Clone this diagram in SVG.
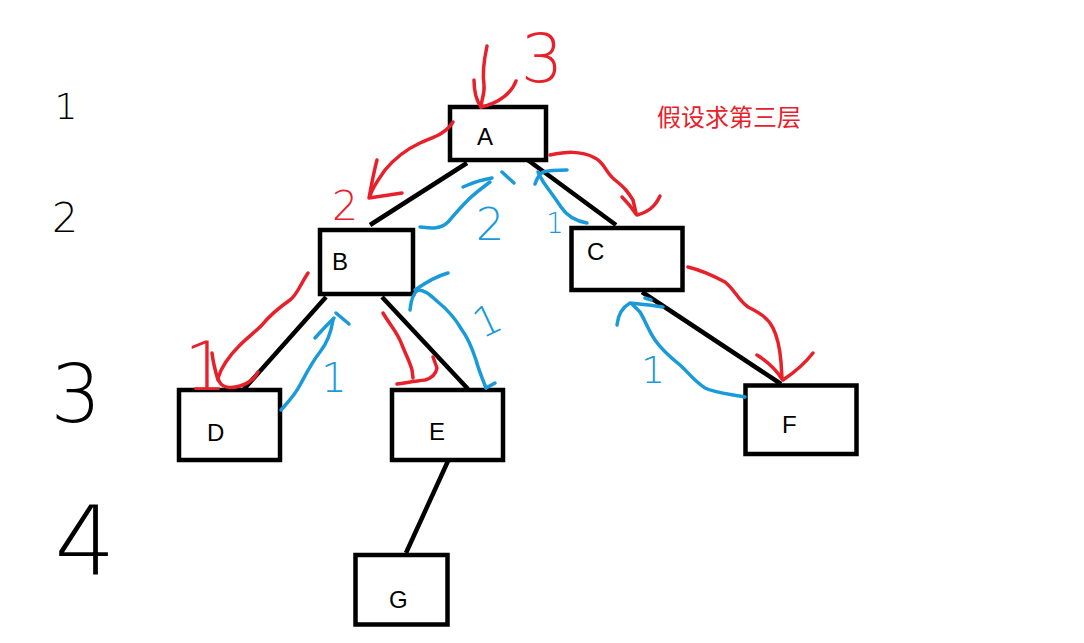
<svg xmlns="http://www.w3.org/2000/svg" width="1084" height="643" viewBox="0 0 1084 643">
<style>
.box{fill:#fff;stroke:#000;stroke-width:4.5}
.lbl{font-family:"Liberation Sans",Arial,sans-serif;font-size:24px;fill:#000}
.edge{stroke:#000;stroke-width:4.5;fill:none;stroke-linecap:butt}
.red{stroke:#e8202a;stroke-width:3.5;fill:none;stroke-linecap:round;stroke-linejoin:round}
.blue{stroke:#1a9ad8;stroke-width:3.5;fill:none;stroke-linecap:round;stroke-linejoin:round}
.hand{font-family:"DejaVu Sans ExtraLight","DejaVu Sans",sans-serif;font-weight:200;text-anchor:middle}
.hk{fill:#000}
.hr{fill:#e8202a}
.hb{fill:#1a9ad8}
</style>
<rect width="1084" height="643" fill="#fff"/>
<g id="connectors">
<path class="edge" d="M467,163 L370,225"/>
<path class="edge" d="M525,158 L616,225"/>
<path class="edge" d="M326,297 L244,389"/>
<path class="edge" d="M382,297 L468,389"/>
<path class="edge" d="M642,292 L781,384"/>
<path class="edge" d="M448,461 L406,553"/>
</g>
<g id="node-A"><rect class="box" x="450" y="107" width="96" height="53"/><text class="lbl" x="477" y="145">A</text></g>
<g id="node-B"><rect class="box" x="320" y="230" width="93" height="64"/><text class="lbl" x="332" y="270">B</text></g>
<g id="node-C"><rect class="box" x="571.5" y="228" width="111" height="62"/><text class="lbl" x="587" y="260">C</text></g>
<g id="node-D"><rect class="box" x="179" y="390" width="101" height="70"/><text class="lbl" x="207" y="441">D</text></g>
<g id="node-E"><rect class="box" x="392" y="390" width="111" height="70"/><text class="lbl" x="429" y="440">E</text></g>
<g id="node-F"><rect class="box" x="745.5" y="385.5" width="111" height="68.5"/><text class="lbl" x="782" y="433">F</text></g>
<g id="node-G"><rect class="box" x="355.5" y="555" width="92" height="69.5"/><text class="lbl" x="389" y="608">G</text></g>
<g id="red-marks">
<path class="red" d="M487,46 C484,60 482,72 484,85 C485,95 481,100 481,107"/>
<path class="red" d="M474,80 C474,92 476,100 481,107"/>
<path class="red" d="M516,81 C512,92 500,103 481,107"/>
<path class="red" d="M453,122 C445,135 430,138 420,143 C405,150 395,158 385,170 C378,180 372,188 370,196"/>
<path class="red" d="M377,160 C373,175 371,188 369,198 L402,193"/>
<path class="red" d="M550,155 C565,152 580,150 595,158 C605,163 605,172 615,180 C625,188 628,192 633,200 L636,213"/>
<path class="red" d="M622,197 C628,203 632,208 636,214"/>
<path class="red" d="M660,196 C655,207 648,212 637,215"/>
<path class="red" d="M308,273 C300,285 297,295 290,300 C280,307 270,315 262,325 C255,332 248,337 240,345 C230,355 222,365 218,378 C220,388 230,389 240,386 C250,383 255,378 258,372"/>
<path class="red" d="M212,353 C213,362 215,370 218,380"/>
<path class="red" d="M383,313 C390,325 398,333 402,345 C406,355 410,362 412,370 L413,378"/>
<path class="red" d="M397,384 C405,383 415,381 425,380 C432,378 436,374 437,368 L433,357"/>
<path class="red" d="M688,267 C700,270 712,275 725,282 C735,290 738,300 748,307 C760,313 768,318 773,328 C778,338 780,350 781,362 L782,378"/>
<path class="red" d="M757,355 C765,360 775,368 782,379"/>
<path class="red" d="M813,353 C806,362 795,372 783,380"/>
</g>
<g id="blue-marks">
<path class="blue" d="M420,227 C430,228 440,230 448,222 C455,214 460,208 468,200 C475,193 482,188 490,182"/>
<path class="blue" d="M463,187 C472,183 480,180 492,178"/>
<path class="blue" d="M502,172 L514,183"/>
<path class="blue" d="M587,223 C575,221 567,216 561,207 C555,198 549,190 544,183 C541,178 539,175 538,172"/>
<path class="blue" d="M535,184 C537,178 540,174 543,172 C550,170 558,170 567,170"/>
<path class="blue" d="M281,410 C288,402 295,395 300,385 C307,372 312,362 320,352 C328,342 331,333 333,320"/>
<path class="blue" d="M315,338 C322,330 328,324 334,318"/>
<path class="blue" d="M336,313 L349,324"/>
<path class="blue" d="M486,388 C482,378 478,368 476,360 C472,348 468,338 462,330 C455,318 448,310 438,302 C430,295 425,290 418,290 C413,293 411,300 410,310"/>
<path class="blue" d="M415,290 C425,283 437,276 448,273"/>
<path class="blue" d="M486,388 L495,383"/>
<path class="blue" d="M745,397 C730,394 715,393 705,388 C693,380 688,372 680,365 C670,357 662,350 655,340 C648,330 645,320 640,312 L632,304"/>
<path class="blue" d="M617,325 C618,315 623,307 630,303 C640,304 652,305 663,307"/>
<path class="blue" d="M645,298 L651,300"/>
</g>
<g id="level-numbers">
<text class="hand hk" x="66" y="119" font-size="36">1</text>
<text class="hand hk" x="65" y="232" font-size="41">2</text>
<text class="hand hk" x="76" y="422" font-size="80">3</text>
<text class="hand hk" x="85" y="575" font-size="96">4</text>
</g>
<g id="annotations">
<text class="hand hr" x="542" y="82" font-size="67">3</text>
<text class="hand hr" x="345" y="220" font-size="41">2</text>
<text class="hand hr" x="206" y="390" font-size="68">1</text>
<text class="hand hb" x="490" y="240" font-size="45">2</text>
<text class="hand hb" x="334" y="392" font-size="40">1</text>
<text class="hand hb" x="487" y="335" font-size="41" transform="rotate(-25 487 320)">1</text>
<text class="hand hb" x="555" y="233" font-size="28">1</text>
<text class="hand hb" x="653" y="383" font-size="38">1</text>
<text x="657" y="126" font-family="'Noto Sans CJK SC','Noto Sans',sans-serif" font-size="24" fill="#e8202a">假设求第三层</text>
</g>
</svg>
